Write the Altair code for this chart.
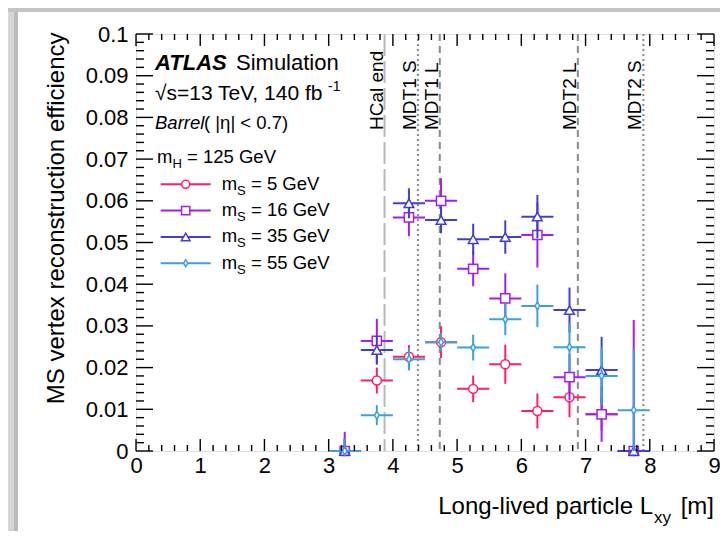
import altair as alt
import pandas as pd

FONT = "Liberation Sans"

# ---------------- data ----------------
lxy_bins = [3.25, 3.75, 4.25, 4.75, 5.25, 5.75, 6.25, 6.75, 7.25, 7.75]
bin_half = 0.25

series_labels = ["5", "16", "35", "55"]
series_colors = ["#FF1E64", "#A020F0", "#4040D0", "#3CA0DC"]
DIAMOND = "M0,-1L0.6,0L0,1L-0.6,0Z"
series_shapes = ["circle", "square", "triangle-up", DIAMOND]
series_sizes = [80, 85, 95, 60]

eff_ms5 = [0.0, 0.0169, 0.0226, 0.0261, 0.0149, 0.0208, 0.0096, 0.0129, 0.0088, 0.0]
err_ms5 = [0.0030, 0.0031, 0.0028, 0.0038, 0.0032, 0.0047, 0.0042, 0.0048, 0.0040, 0.0]
eff_ms16 = [0.0, 0.0264, 0.0560, 0.0600, 0.0437, 0.0366, 0.0518, 0.0177, 0.0088, 0.0]
err_ms16 = [0.0046, 0.0053, 0.0045, 0.0054, 0.0042, 0.0060, 0.0078, 0.0055, 0.0066, 0.0314]
eff_ms35 = [0.0, 0.0242, 0.0594, 0.0554, 0.0508, 0.0513, 0.0562, 0.0338, 0.0194, 0.0]
err_ms35 = [0.0030, 0.0035, 0.0036, 0.0032, 0.0037, 0.0040, 0.0052, 0.0054, 0.0080, 0.0]
eff_ms55 = [0.0, 0.0086, 0.0220, 0.0261, 0.0248, 0.0316, 0.0348, 0.0249, 0.0180, 0.0098]
err_ms55 = [0.0030, 0.0024, 0.0027, 0.0022, 0.0031, 0.0038, 0.0051, 0.0058, 0.0070, 0.0146]

series_eff = [eff_ms5, eff_ms16, eff_ms35, eff_ms55]
series_err = [err_ms5, err_ms16, err_ms35, err_ms55]

detector_names = ["HCal end", "MDT1 S", "MDT1 L", "MDT2 L", "MDT2 S"]
detector_lxy = [3.87, 4.39, 4.73, 6.88, 7.90]
detector_style = ["long", "dot", "dash", "dash", "dot"]

x_major_ticks = [0, 1, 2, 3, 4, 5, 6, 7, 8, 9]
y_major_ticks = [0, 0.01, 0.02, 0.03, 0.04, 0.05, 0.06, 0.07, 0.08, 0.09, 0.1]

# ---------------- layout ----------------
W, H = 578, 417
X = alt.Scale(domain=[0, 9], nice=False, zero=False)
Y = alt.Scale(domain=[0, 0.1], nice=False, zero=False)

x_minor_ticks = [round(i * 0.2, 4) for i in range(46) if i % 5]
y_minor_ticks = [round(i * 0.002, 5) for i in range(51) if i % 5]

xaxis = alt.Axis(values=x_major_ticks, format="d", ticks=False, tickSize=0, domain=False,
                 grid=False, labelFontSize=22, labelFont=FONT, labelColor="black",
                 labelPadding=4, title=None, labelFlush=False, labelOverlap=False)
yaxis = alt.Axis(values=y_major_ticks,
                 labelExpr="datum.value == 0 ? '0' : format(datum.value, '.2~f')",
                 ticks=False, tickSize=0, domain=False, grid=False,
                 labelFontSize=22, labelFont=FONT, labelColor="black", labelPadding=8,
                 labelFlush=False, labelOverlap=False,
                 title="MS vertex reconstruction efficiency", titleFontSize=24,
                 titleFont=FONT, titleFontWeight="normal", titleColor="black",
                 titleAngle=270, titleAlign="right", titleBaseline="alphabetic",
                 titleX=-73, titleY=-2)

one = pd.DataFrame({"k": [0]})
layers = []

# decorative frame of the screenshot
layers.append(alt.Chart(one).mark_rect(color="#d6d6d6").encode(
    x=alt.value(-128), x2=alt.value(-122), y=alt.value(-26), y2=alt.value(H + 80)))
layers.append(alt.Chart(one).mark_rect(color="#bcbcbc").encode(
    x=alt.value(-122), x2=alt.value(-118), y=alt.value(-22), y2=alt.value(H + 80)))
layers.append(alt.Chart(one).mark_rect(color="#c4c4c4").encode(
    x=alt.value(-128), x2=alt.value(W + 6), y=alt.value(-26), y2=alt.value(-22)))

# detector boundary lines
det = pd.DataFrame({"lxy": detector_lxy, "name": detector_names, "style": detector_style})
style_props = {
    "long": dict(color="#B8B8B8", strokeDash=[22, 5], strokeWidth=2),
    "dot": dict(color="#8A8A8A", strokeDash=[2, 3], strokeWidth=2),
    "dash": dict(color="#8A8A8A", strokeDash=[7, 5], strokeWidth=2),
}
for st, props in style_props.items():
    layers.append(
        alt.Chart(det).transform_filter(alt.datum.style == st).mark_rule(**props).encode(
            x=alt.X("lxy:Q", scale=X, axis=xaxis), y=alt.value(0), y2=alt.value(H)))
layers.append(
    alt.Chart(det).mark_text(angle=270, align="left", baseline="alphabetic", dy=-2,
                             font=FONT, fontSize=19, color="black").encode(
        x=alt.X("lxy:Q", scale=X, axis=xaxis), y=alt.value(96), text="name:N"))

# data series
for lab, col, shp, sz, eff, err in zip(series_labels, series_colors, series_shapes,
                                        series_sizes, series_eff, series_err):
    df = pd.DataFrame({
        "x": lxy_bins,
        "xlo": [v - bin_half for v in lxy_bins],
        "xhi": [v + bin_half for v in lxy_bins],
        "y": eff,
        "ylo": [max(0.0, e - d) for e, d in zip(eff, err)],
        "yhi": [e + d for e, d in zip(eff, err)],
    })
    base = alt.Chart(df)
    layers.append(base.mark_rule(color=col, strokeWidth=2).encode(
        x=alt.X("xlo:Q", scale=X, axis=xaxis), x2="xhi:Q",
        y=alt.Y("y:Q", scale=Y, axis=yaxis)))
    layers.append(base.mark_rule(color=col, strokeWidth=2).encode(
        x=alt.X("x:Q", scale=X, axis=xaxis),
        y=alt.Y("ylo:Q", scale=Y, axis=yaxis), y2="yhi:Q"))
    layers.append(base.mark_point(shape=shp, size=sz, filled=False, fill="white",
                                  fillOpacity=1, stroke=col, strokeWidth=1.5,
                                  opacity=1).encode(
        x=alt.X("x:Q", scale=X, axis=xaxis), y=alt.Y("y:Q", scale=Y, axis=yaxis)))

# inward ticks on all four sides
def xticks(vals, length):
    d = pd.DataFrame({"v": vals})
    out = []
    for y0, y1 in [(H, H - length), (0, length)]:
        out.append(alt.Chart(d).mark_rule(color="black", strokeWidth=1.4).encode(
            x=alt.X("v:Q", scale=X, axis=xaxis), y=alt.value(y0), y2=alt.value(y1)))
    return out


def yticks(vals, length):
    d = pd.DataFrame({"v": vals})
    out = []
    for x0, x1 in [(0, length), (W, W - length)]:
        out.append(alt.Chart(d).mark_rule(color="black", strokeWidth=1.4).encode(
            y=alt.Y("v:Q", scale=Y, axis=yaxis), x=alt.value(x0), x2=alt.value(x1)))
    return out


layers += xticks(x_major_ticks, 12) + xticks(x_minor_ticks, 6)
layers += yticks(y_major_ticks, 17) + yticks(y_minor_ticks, 8)


# text helpers
def txt(s, x, y, size, style="normal", weight="normal", align="left", color="black"):
    return alt.Chart(one).mark_text(text=s, font=FONT, fontSize=size, fontStyle=style,
                                    fontWeight=weight, align=align, baseline="alphabetic",
                                    color=color).encode(x=alt.value(x), y=alt.value(y))


# x-axis title with subscript
layers.append(txt("Long-lived particle L", 517, 480, 24, align="right"))
layers.append(txt("xy", 518, 489, 17))
layers.append(txt("[m]", W, 480, 24, align="right"))

# ATLAS labels
layers.append(txt("ATLAS", 19, 36, 22, style="italic", weight="bold"))
layers.append(txt("Simulation", 100, 36, 22))
layers.append(txt("\u221As=13 TeV, 140 fb", 19, 66, 21))
layers.append(txt("-1", 192, 57, 14))
layers.append(txt("Barrel", 19, 95, 18.5, style="italic"))
layers.append(txt("( |\u03b7| < 0.7)", 68, 95, 18.5))
layers.append(txt("m", 21, 129, 18.5))
layers.append(txt("H", 36.4, 134, 13))
layers.append(txt("= 125 GeV", 51, 129, 18.5))

# legend
leg_y0, leg_dy = 150.3, 26.3
for i, (lab, col, shp, sz) in enumerate(zip(series_labels, series_colors,
                                             series_shapes, series_sizes)):
    ly = leg_y0 + i * leg_dy
    layers.append(alt.Chart(one).mark_rule(color=col, strokeWidth=2).encode(
        x=alt.value(24.7), x2=alt.value(74.7), y=alt.value(ly)))
    layers.append(alt.Chart(one).mark_point(shape=shp, size=sz * 0.8, filled=False,
                                            fill="white", fillOpacity=1, stroke=col,
                                            strokeWidth=1.5, opacity=1).encode(
        x=alt.value(49.7), y=alt.value(ly)))
    layers.append(txt("m", 85.7, ly + 5.5, 18.5))
    layers.append(txt("S", 101.1, ly + 10.5, 13))
    layers.append(txt(f"= {lab} GeV", 115, ly + 5.5, 18.5))

chart = alt.layer(*layers).properties(
    width=W, height=H,
    autosize=alt.AutoSizeParams(type="none"),
    padding={"left": 128, "top": 26, "right": 6, "bottom": 80},
    background="white",
).configure_view(stroke="black", strokeWidth=2).configure(font=FONT)

chart.save("out.html", embed_options={"renderer": "svg", "actions": False})
